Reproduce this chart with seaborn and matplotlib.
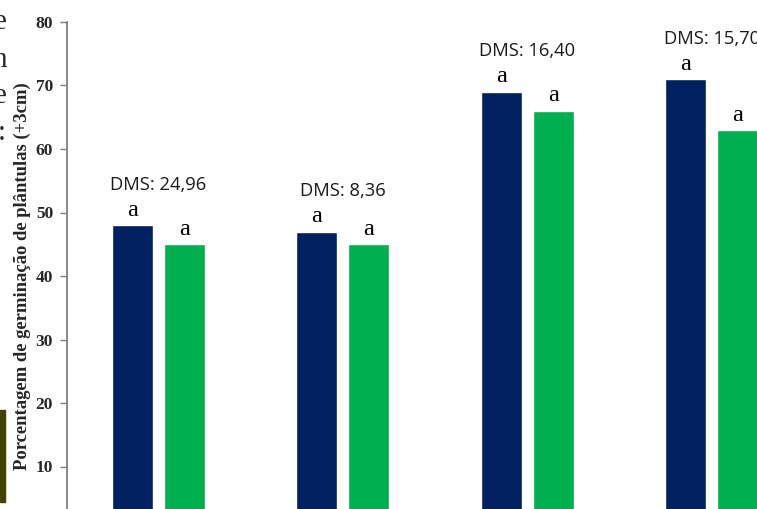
import pandas as pd
import matplotlib
matplotlib.use("Agg")
import matplotlib.pyplot as plt
import seaborn as sns
from matplotlib.patches import Rectangle

# dados
grupos = ["G1", "G2", "G3", "G4"]
tratamentos = ["T1", "T2"]
valores_t1 = [48, 47, 69, 71]
valores_t2 = [45, 45, 66, 63]
dms = ["DMS: 24,96", "DMS: 8,36", "DMS: 16,40", "DMS: 15,70"]
letras_t1 = ["a", "a", "a", "a"]
letras_t2 = ["a", "a", "a", "a"]

dataset = pd.DataFrame({
    "grupo": grupos * 2,
    "trat": [tratamentos[0]] * 4 + [tratamentos[1]] * 4,
    "valor": valores_t1 + valores_t2,
})

sns.set_theme(style="white")
plt.rcParams['font.family'] = ['Liberation Serif', 'DejaVu Serif']

fig = plt.figure(figsize=(7.57, 5.09), dpi=100)
# o grafico original esta recortado: eixos saem da figura
ax = fig.add_axes([67 / 757, -21 / 509, 4 * 184.5 / 757, 508 / 509])

sns.barplot(data=dataset, x="grupo", y="valor", hue="trat",
            palette=["#002060", "#00B050"], width=0.564, gap=0.21,
            saturation=1, legend=False, ax=ax)

ax.set_ylim(0, 80)
ax.set_xlim(-0.495, 3.505)
ax.set_yticks(range(10, 90, 10))
ax.tick_params(axis='y', which='major', labelsize=12.5, direction='out',
               length=5, width=1, color='#808080', left=True, pad=5)
for t in ax.get_yticklabels():
    t.set_fontweight('bold')
ax.set_xticks([])
ax.set_xlabel('')
ax.set_ylabel('Porcentagem de germinação de plântulas (+3cm)',
              fontsize=13.4, fontweight='bold', labelpad=3.5)
for s in ['top', 'right', 'bottom']:
    ax.spines[s].set_visible(False)
ax.spines['left'].set_color('#808080')
ax.spines['left'].set_linewidth(1.3)

off = 0.564 / 4
for i in range(len(grupos)):
    ax.text(i - off, valores_t1[i] + 0.7, letras_t1[i], ha='center', va='bottom',
            fontsize=17.5, color='black')
    ax.text(i + off, valores_t2[i] + 0.7, letras_t2[i], ha='center', va='bottom',
            fontsize=17.5, color='black')
    topo = max(valores_t1[i], valores_t2[i])
    ax.text(i, topo + 6.4, dms[i], ha='center', va='center', fontsize=13.2,
            color='#1a1a1a', family=['Open Sans', 'DejaVu Sans'])

# restos do texto vizinho (lado esquerdo), recortados como no original
for y, ch in zip([22, 60, 96, 133], ["e", "n", "e", "c:"]):
    fig.text(7 / 757, 1 - y / 509, ch, ha='right', va='center', fontsize=21)
fig.patches.append(Rectangle((0, 1 - 502 / 509), 5 / 757, 92 / 509,
                             transform=fig.transFigure, color='#3f4500'))

fig.savefig("out.png", dpi=100)
